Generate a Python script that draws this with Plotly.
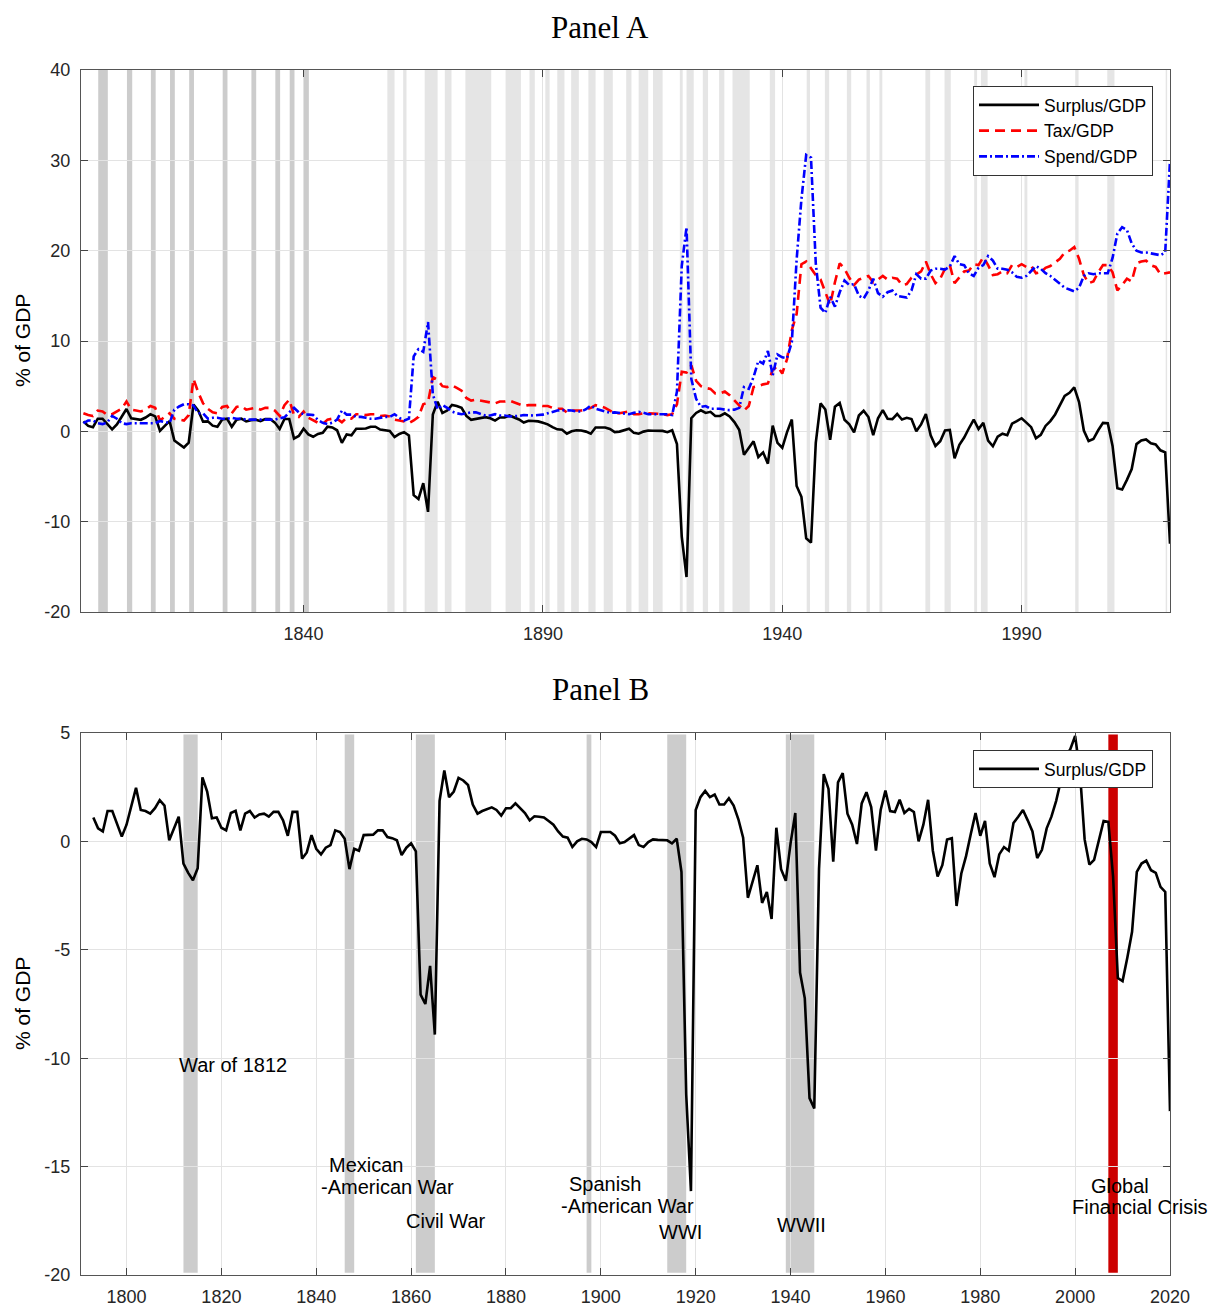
import plotly.graph_objects as go

# ---------------------------------------------------------------------------
# Federal budget as a share of GDP, 1793-2020 (annual, % of GDP)
# ---------------------------------------------------------------------------
YEARS = list(range(1793, 2021))

SURPLUS = [
    1.1, 0.6, 0.46, 1.4, 1.4, 0.77, 0.22,                                # 1793-1799
    0.77, 1.6, 2.47, 1.45, 1.4, 1.28, 1.53, 1.9, 1.65, 0.05,             # 1800s
    0.6, 1.14, -1.02, -1.45, -1.79, -1.24, 2.95, 2.3, 1.07, 1.1,         # 1810s
    0.63, 0.51, 1.31, 1.41, 0.51, 1.28, 1.4, 1.1, 1.24, 1.28,            # 1820s
    1.14, 1.36, 1.36, 0.97, 0.26, 1.36, 1.36, -0.8, -0.51, 0.29,         # 1830s
    -0.34, -0.6, -0.29, -0.17, 0.51, 0.43, 0.12, -1.28, -0.34, -0.43,    # 1840s
    0.29, 0.29, 0.31, 0.51, 0.51, 0.2, 0.15, 0.05, -0.63, -0.29,         # 1850s
    -0.09, -0.46, -7.07, -7.5, -5.74, -8.91, 1.87, 3.27, 2.04, 2.3,      # 1860s
    2.93, 2.81, 2.6, 1.7, 1.28, 1.4, 1.5, 1.57, 1.45, 1.19,              # 1870s
    1.53, 1.53, 1.75, 1.53, 1.31, 0.97, 1.16, 1.14, 1.1, 0.94,           # 1880s
    0.77, 0.46, 0.22, 0.17, -0.26, 0.0, 0.12, 0.09, -0.03, -0.26,        # 1890s
    0.43, 0.43, 0.43, 0.26, -0.09, -0.03, 0.12, 0.29, -0.17, -0.26,      # 1900s
    -0.03, 0.09, 0.07, 0.05, 0.05, -0.09, 0.12, -1.41, -11.67, -16.13,   # 1910s
    1.45, 2.04, 2.33, 2.04, 2.16, 1.7, 1.7, 1.99, 1.65, 1.02,            # 1920s
    0.17, -2.6, -1.87, -1.1, -2.84, -2.33, -3.58, 0.63, -1.28, -1.82,    # 1930s
    -0.09, 1.31, -6.05, -7.24, -11.84, -12.32, -1.28, 3.1, 2.42, -0.94,  # 1940s
    2.72, 3.15, 1.28, 0.77, -0.12, 1.75, 2.27, 1.58, -0.43, 1.45,        # 1950s
    2.35, 1.4, 1.36, 1.92, 1.31, 1.5, 1.36, 0.0, 0.77, 1.92,             # 1960s
    -0.43, -1.62, -1.1, 0.09, 0.15, -2.98, -1.48, -0.68, 0.34, 1.31,     # 1970s
    0.26, 0.94, -1.02, -1.65, -0.6, -0.26, -0.43, 0.85, 1.14, 1.45,      # 1980s
    0.97, 0.46, -0.77, -0.39, 0.6, 1.14, 1.87, 2.81, 3.92, 4.26,         # 1990s
    4.86, 3.24, 0.09, -1.07, -0.85, 0.12, 0.94, 0.9, -1.62, -6.3,        # 2000s
    -6.44, -5.37, -4.17, -1.41, -1.02, -0.89, -1.33, -1.45, -2.1, -2.33, # 2010s
    -12.44,                                                              # 2020
]

TAX = [
    2.0, 1.8, 1.7, 2.3, 2.2, 1.8, 1.9,
    2.2, 2.5, 3.3, 2.4, 2.3, 2.2, 2.4, 2.8, 2.6, 1.2,
    1.6, 2.0, 1.4, 1.3, 1.2, 1.8, 5.8, 4.3, 3.1, 2.5,
    2.1, 2.0, 2.7, 2.8, 2.0, 2.7, 2.8, 2.4, 2.5, 2.6,
    2.4, 2.6, 2.6, 2.3, 1.7, 2.9, 3.5, 1.8, 1.6, 2.2,
    1.5, 1.2, 0.95, 0.8, 1.3, 1.4, 1.4, 1.0, 1.5, 1.4,
    1.9, 1.9, 1.8, 1.9, 1.9, 1.7, 1.75, 1.65, 1.3, 1.2,
    1.1, 0.9, 1.2, 1.6, 3.0, 3.2, 6.0, 5.7, 5.0, 4.9,
    5.1, 4.8, 4.5, 3.7, 3.4, 3.5, 3.4, 3.3, 3.2, 3.1,
    3.3, 3.3, 3.4, 3.2, 3.0, 2.8, 2.9, 2.9, 2.9, 2.8,
    2.8, 2.6, 2.5, 2.5, 2.1, 2.3, 2.3, 2.3, 2.4, 2.6,
    2.9, 2.8, 2.6, 2.3, 2.0, 2.0, 2.1, 2.2, 1.9, 1.9,
    2.0, 2.0, 1.95, 1.95, 1.9, 1.8, 1.9, 3.0, 6.6, 6.5,
    7.3, 5.6, 5.0, 4.8, 4.7, 4.2, 4.2, 4.4, 4.0, 3.4,
    2.8, 2.3, 2.8, 4.9, 5.0, 5.2, 5.3, 6.8, 7.2, 6.4,
    8.0, 11.2, 13.0, 18.5, 18.8, 18.0, 17.3, 16.8, 15.5, 14.0,
    16.5, 18.6, 18.0, 17.0, 16.2, 16.8, 17.0, 17.2, 16.5, 16.8,
    17.2, 16.8, 17.0, 16.9, 16.2, 16.3, 17.0, 17.4, 17.7, 18.8,
    17.4, 16.4, 16.9, 18.0, 18.4, 16.4, 17.0, 17.7, 17.8, 18.5,
    18.4, 19.3, 18.4, 17.3, 17.4, 17.7, 17.5, 18.4, 18.2, 18.5,
    18.2, 18.3, 17.5, 17.6, 18.1, 18.3, 18.7, 19.1, 19.8, 20.0,
    20.4, 19.1, 17.3, 16.4, 16.6, 17.6, 18.4, 18.4, 17.6, 15.6,
    16.2, 16.9, 16.6, 18.6, 18.8, 18.9, 18.4, 18.2, 17.4, 17.5,
    17.6,
]

SPEND = [
    0.9, 1.2, 1.2, 0.9, 0.8, 1.0, 1.7,
    1.4, 0.9, 0.8, 0.9, 0.9, 0.9, 0.9, 0.9, 0.9, 1.15,
    1.0, 0.9, 2.4, 2.75, 3.0, 3.0, 2.85, 2.0, 2.0, 1.4,
    1.5, 1.5, 1.4, 1.4, 1.5, 1.4, 1.4, 1.3, 1.3, 1.3,
    1.3, 1.25, 1.25, 1.3, 1.45, 1.55, 2.1, 2.6, 2.1, 1.9,
    1.85, 1.8, 1.25, 0.95, 0.8, 0.95, 1.3, 2.3, 1.85, 1.85,
    1.6, 1.6, 1.5, 1.4, 1.4, 1.5, 1.6, 1.6, 1.9, 1.5,
    1.2, 1.4, 8.3, 9.1, 8.8, 12.1, 4.1, 2.45, 2.9, 2.6,
    2.2, 2.0, 1.9, 2.0, 2.1, 2.1, 1.9, 1.75, 1.75, 1.9,
    1.75, 1.75, 1.65, 1.65, 1.7, 1.8, 1.75, 1.75, 1.8, 1.85,
    2.0, 2.15, 2.3, 2.35, 2.35, 2.3, 2.2, 2.2, 2.45, 2.85,
    2.5, 2.35, 2.15, 2.05, 2.1, 2.05, 2.0, 1.9, 2.05, 2.15,
    2.05, 1.9, 1.9, 1.9, 1.85, 1.9, 1.8, 4.4, 18.3, 22.6,
    5.8, 3.6, 2.7, 2.8, 2.5, 2.5, 2.5, 2.4, 2.35, 2.4,
    2.6, 4.9, 4.7, 6.0, 7.8, 7.5, 8.9, 6.2, 8.5, 8.2,
    8.1, 9.9, 19.0, 25.7, 30.6, 30.3, 18.6, 13.7, 13.1, 14.9,
    13.8, 15.4, 16.7, 16.2, 16.3, 15.0, 14.7, 15.6, 16.9, 15.3,
    14.9, 15.4, 15.6, 15.0, 14.9, 14.8, 15.6, 17.4, 16.9, 16.9,
    17.8, 18.0, 18.0, 17.9, 18.25, 19.4, 18.5, 18.4, 17.5, 17.2,
    18.1, 18.4, 19.4, 18.9, 18.0, 18.0, 17.9, 17.6, 17.1, 17.0,
    17.2, 17.8, 18.3, 18.0, 17.5, 17.2, 16.8, 16.3, 15.9, 15.7,
    15.5, 15.9, 17.2, 17.5, 17.4, 17.5, 17.5, 17.5, 19.2, 21.9,
    22.6, 22.3, 20.8, 20.0, 19.8, 19.8, 19.7, 19.6, 19.5, 19.8,
    30.0,
]

# Business-cycle contractions (start, end) in decimal years
EARLY_RECESSIONS = [
    (1797.1, 1799.1), (1803.1, 1804.2), (1808.1, 1809.1), (1812.1, 1813.1),
    (1816.1, 1817.1), (1823.1, 1824.1), (1829.1, 1830.1), (1834.1, 1835.1),
    (1837.1, 1838.1), (1840.0, 1841.1),
]
NBER_RECESSIONS = [
    (1857.5, 1859.0), (1860.8, 1861.5), (1865.3, 1868.0), (1869.5, 1870.9),
    (1873.8, 1879.2), (1882.2, 1885.4), (1887.2, 1888.3), (1890.5, 1891.4),
    (1893.0, 1894.5), (1895.9, 1897.5), (1899.5, 1901.0), (1902.7, 1904.6),
    (1907.4, 1908.5), (1910.0, 1912.0), (1913.0, 1915.0), (1918.6, 1919.2),
    (1920.0, 1921.5), (1923.4, 1924.5), (1926.8, 1927.9), (1929.6, 1933.2),
    (1937.4, 1938.5), (1945.1, 1945.8), (1948.9, 1949.8), (1953.5, 1954.4),
    (1957.6, 1958.3), (1960.3, 1960.9), (1969.9, 1970.9), (1973.9, 1975.2),
    (1980.1, 1980.7), (1981.5, 1982.9), (1990.6, 1991.2), (2001.2, 2001.9),
    (2007.9, 2009.4), (2020.1, 2020.4),
]

# Wars: label lines, (start, end), label anchor (year, % of GDP)
WARS = [
    (["War of 1812"], (1812, 1815), [(1822.4, -10.3)]),
    (["Mexican", "-American War"], (1846, 1848), [(1850.5, -14.93), (1855.1, -15.95)]),
    (["Civil War"], (1861, 1865), [(1867.4, -17.5)]),
    (["Spanish", "-American War"], (1897, 1898), [(1900.9, -15.82), (1905.7, -16.84)]),
    (["WWI"], (1914, 1918), [(1916.8, -18.0)]),
    (["WWII"], (1939, 1945), [(1942.4, -17.7)]),
]
CRISIS = (["Global", "Financial Crisis"], (2007, 2009), [(2009.4, -15.88), (2013.6, -16.85)])

Y_TICKS_A = [-20, -10, 0, 10, 20, 30, 40]
Y_TICKS_B = [-20, -15, -10, -5, 0, 5]
X_TICKS_A = [1840, 1890, 1940, 1990]
X_TICKS_B = list(range(1800, 2021, 20))

SANS = "Liberation Sans, Arial, sans-serif"
SERIF = "Liberation Serif, Times New Roman, serif"

# Panel A places each fiscal year at its closing date
dates_a = [y + 1 for y in YEARS]

fig = go.Figure()

fig.add_trace(go.Scatter(
    x=dates_a, y=SURPLUS, mode="lines", name="Surplus/GDP",
    line=dict(color="black", width=2.6), xaxis="x", yaxis="y", legend="legend"))
fig.add_trace(go.Scatter(
    x=dates_a, y=TAX, mode="lines", name="Tax/GDP",
    line=dict(color="#ff0000", width=2.6, dash="10px,6px"), xaxis="x", yaxis="y", legend="legend"))
fig.add_trace(go.Scatter(
    x=dates_a, y=SPEND, mode="lines", name="Spend/GDP",
    line=dict(color="#0000ff", width=2.6, dash="8px,3px,2px,3px"), xaxis="x", yaxis="y", legend="legend"))

fig.add_trace(go.Scatter(
    x=YEARS, y=SURPLUS, mode="lines", name="Surplus/GDP",
    line=dict(color="black", width=2.6), xaxis="x2", yaxis="y2", legend="legend2"))

shapes = []
for a, b in EARLY_RECESSIONS:
    shapes.append(dict(type="rect", xref="x", yref="y domain", x0=a, x1=b, y0=0, y1=1,
                       fillcolor="#cccccc", line=dict(width=0), layer="below"))
for a, b in NBER_RECESSIONS:
    shapes.append(dict(type="rect", xref="x", yref="y domain", x0=a, x1=b, y0=0, y1=1,
                       fillcolor="#e5e5e5", line=dict(width=0), layer="below"))

annotations = []
for lines, (a, b), anchors in WARS + [CRISIS]:
    color = "#cc0000" if lines is CRISIS[0] else "#cccccc"
    shapes.append(dict(type="rect", xref="x2", yref="y2", x0=a, x1=b, y0=-19.9, y1=4.93,
                       fillcolor=color, line=dict(width=0), layer="below"))
    for text, (ax, ay) in zip(lines, anchors):
        annotations.append(dict(text=text, x=ax, y=ay, xref="x2", yref="y2",
                                showarrow=False, xanchor="center", yanchor="middle",
                                font=dict(family=SANS, size=20, color="black")))

# panel titles and y-axis labels
annotations += [
    dict(text="Panel A", x=0.4766, y=1.0349, xref="paper", yref="paper", showarrow=False,
         xanchor="center", yanchor="middle", font=dict(family=SERIF, size=31, color="black")),
    dict(text="Panel B", x=0.4766, y=0.4855, xref="paper", yref="paper", showarrow=False,
         xanchor="center", yanchor="middle", font=dict(family=SERIF, size=31, color="black")),
    dict(text="% of GDP", x=-0.0542, y=0.7759, xref="paper", yref="paper", showarrow=False,
         textangle=-90, xanchor="center", yanchor="middle", font=dict(family=SANS, size=21, color="black")),
    dict(text="% of GDP", x=-0.0542, y=0.2257, xref="paper", yref="paper", showarrow=False,
         textangle=-90, xanchor="center", yanchor="middle", font=dict(family=SANS, size=21, color="black")),
]

axis_style = dict(
    showline=True, linecolor="#555555", linewidth=1.2, mirror="ticks",
    ticks="inside", ticklen=7, tickcolor="#444444", tickwidth=1,
    showgrid=True, gridcolor="#e3e3e3", gridwidth=1, zeroline=False, automargin=False,
    tickfont=dict(family=SANS, size=18, color="#262626"),
)

legend_style = dict(
    xanchor="right", yanchor="top", bgcolor="white", bordercolor="#333333", borderwidth=1,
    font=dict(family=SANS, size=17.5, color="black"), itemwidth=60, tracegroupgap=0,
)

fig.update_layout(
    width=1213, height=1309,
    margin=dict(l=81, r=43, t=70, b=34),
    paper_bgcolor="white", plot_bgcolor="white",
    xaxis=dict(domain=[0, 1], anchor="y", range=[1793.5, 2021], ticklabelstandoff=5,
               tickvals=X_TICKS_A, ticktext=[str(v) for v in X_TICKS_A], **axis_style),
    yaxis=dict(domain=[0.5502, 1], anchor="x", range=[-20, 40], ticklabelstandoff=6,
               tickvals=Y_TICKS_A, ticktext=[str(v) for v in Y_TICKS_A], **axis_style),
    xaxis2=dict(domain=[0, 1], anchor="y2", range=[1790.4, 2020], ticklabelstandoff=5,
                tickvals=X_TICKS_B, ticktext=[str(v) for v in X_TICKS_B], **axis_style),
    yaxis2=dict(domain=[0, 0.4498], anchor="x2", range=[-20, 5], ticklabelstandoff=6,
                tickvals=Y_TICKS_B, ticktext=[str(v) for v in Y_TICKS_B], **axis_style),
    legend=dict(x=0.9844, y=0.9867, **legend_style),
    legend2=dict(x=0.9844, y=0.4357, **legend_style),
    shapes=shapes,
    annotations=annotations,
    showlegend=True,
)

fig.write_html("out.html")
